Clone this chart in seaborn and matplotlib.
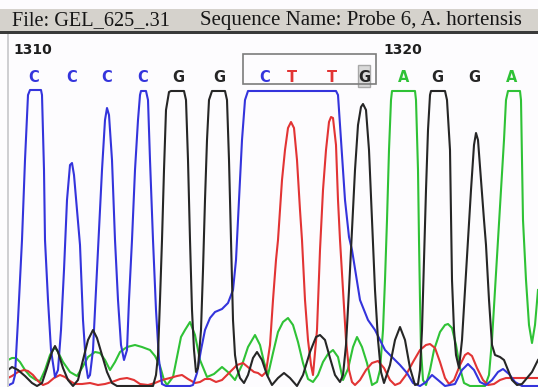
import numpy as np
import pandas as pd
import matplotlib
matplotlib.use("Agg")
import matplotlib.pyplot as plt
from matplotlib.patches import Rectangle
from matplotlib.transforms import blended_transform_factory
import seaborn as sns

# ---- trace data: (scan position, signal) vertices per dye channel ----
blue_scan = [9, 13, 15, 18, 22, 25, 28, 30, 41, 42, 44, 45, 48, 51, 55,
             58, 61, 64, 67, 70, 72, 74, 77, 80, 83, 86, 88,
             90, 93, 96, 99, 102, 105, 107, 109, 112, 115, 118, 121, 124,
             127, 129, 132, 135, 138, 140, 141, 146, 148, 150, 153, 156, 159, 162, 166,
             190, 193, 197, 201, 205, 210, 215, 222, 228, 233, 236, 239, 242, 245, 248,
             336, 338, 341, 345, 349, 352, 356, 360, 368, 375, 385, 390, 400, 407, 413,
             420, 426, 432, 438, 445, 455, 462, 468, 474, 480, 486, 492, 498, 503, 509,
             515, 522, 538]
blue_sig = [2, 4, 12, 67, 147, 227, 292, 297, 297, 292, 217, 147, 87, 37, 10,
            17, 57, 117, 187, 222, 224, 212, 177, 142, 67, 22, 9,
            12, 37, 97, 157, 217, 267, 279, 272, 227, 147, 87, 42, 27,
            37, 87, 147, 217, 267, 292, 296, 296, 287, 227, 147, 77, 27, 3, 1,
            1, 2, 14, 37, 57, 69, 75, 78, 84, 97, 127, 187, 247, 287, 296,
            296, 292, 247, 187, 150, 137, 112, 87, 67, 57, 37, 32, 22, 14, 4,
            1, 5, 12, 7, 1, 3, 17, 23, 17, 5, 2, 7, 15, 18, 13,
            5, 1, 1]

black_scan = [8, 12, 18, 25, 32, 37, 42, 47, 52, 55, 58, 63, 68, 73, 78, 83, 88, 93,
              97, 102, 107, 112, 117, 153,
              156, 158, 160, 162, 164, 166, 169, 171, 184, 186, 188, 190, 192, 194, 196, 198,
              201, 203, 205, 207, 209, 212, 225, 227, 229, 231, 233, 235, 237,
              240, 244, 248, 253, 257, 262, 267, 272, 278, 284, 290, 297, 303, 310,
              316, 320, 325, 330, 335, 340,
              343, 346, 349, 352, 355, 358, 361, 363, 366, 369, 372, 375, 378, 381, 384,
              390, 395, 400, 405, 410, 415, 418,
              420, 422, 424, 426, 428, 430, 431, 445, 447, 450, 452, 454, 456, 459,
              462, 465, 468, 471, 474, 476, 478, 481, 484, 486, 489, 492, 495, 500, 504,
              508, 512, 517, 522, 527, 532, 538]
black_sig = [17, 20, 17, 11, 4, 1, 4, 19, 35, 41, 35, 19, 7, 1, 7, 27, 47, 57,
             49, 32, 15, 4, 1, 1,
             12, 32, 87, 147, 217, 277, 295, 296, 296, 287, 227, 147, 77, 37, 15, 19,
             57, 117, 187, 247, 287, 296, 296, 287, 227, 147, 67, 32, 19,
             9, 4, 12, 29, 35, 27, 12, 2, 9, 14, 9, 1, 12, 35,
             50, 52, 47, 29, 12, 5,
             12, 42, 97, 157, 217, 262, 280, 283, 277, 237, 167, 97, 47, 15, 4,
             22, 47, 60, 47, 19, 2, 3,
             17, 57, 127, 197, 257, 292, 296, 296, 287, 237, 107, 57, 32, 19,
             47, 97, 147, 197, 242, 254, 247, 207, 167, 142, 87, 42, 32, 30, 27,
             17, 7, 2, 3, 9, 15, 27]

green_scan = [8, 12, 16, 20, 25, 30, 36, 40, 45, 50, 54, 57, 63, 70, 77, 82, 88, 95,
              100, 105, 110, 115, 120, 127, 135, 142, 150, 155, 160, 164, 167,
              173, 177, 181, 185, 190, 195, 200, 207, 214, 222, 229, 235, 242, 248, 255,
              260, 264, 268, 273, 278, 283, 288, 293, 298, 303, 308, 313,
              318, 323, 328, 333, 338, 343, 348, 353, 357, 362, 367, 372,
              377, 380, 383, 385, 387, 389, 391, 392, 415, 416, 418, 419, 420, 421, 423,
              426, 430, 434, 440, 445, 448, 452, 456, 460, 464, 470, 485,
              489, 492, 495, 498, 501, 504, 506, 508, 520, 521, 522, 523, 526, 529,
              532, 535, 538]
green_sig = [27, 29, 29, 25, 17, 11, 7, 6, 17, 32, 39, 37, 25, 15, 11, 19, 30, 35,
             34, 27, 17, 25, 35, 40, 42, 40, 37, 31, 21, 7, 2,
             10, 30, 50, 57, 65, 52, 27, 10, 13, 20, 14, 7, 22, 40, 52,
             42, 25, 12, 34, 55, 65, 69, 62, 45, 24, 8, 5,
             12, 25, 33, 37, 30, 7, 18, 40, 50, 40, 24, 2,
             5, 17, 57, 107, 167, 237, 287, 296, 296, 287, 217, 147, 87, 37, 7,
             2, 17, 37, 55, 62, 63, 59, 42, 19, 4, 1, 1,
             12, 47, 97, 147, 197, 247, 287, 296, 296, 287, 227, 167, 107, 62,
             44, 62, 97]

red_scan = [8, 12, 18, 24, 28, 33, 38, 43, 48, 54, 60, 65, 70, 75, 82, 90, 98, 105,
            112, 120, 127, 134, 140, 148, 155, 162, 170, 177, 182, 188, 195, 200,
            205, 210, 216, 222, 230, 237, 243, 249, 254, 258, 262,
            266, 270, 273, 276, 278, 282, 285, 288, 291, 294, 297, 300, 302, 305, 308, 311, 313,
            317, 320, 323, 326, 329, 331, 333, 336, 338, 340, 343, 346, 349, 352,
            355, 360, 366, 372, 378, 384, 390, 395, 400, 406, 413, 420, 426, 430, 435,
            440, 445, 449, 454, 460, 465, 468, 472, 477, 483, 488, 494, 500, 506, 512,
            520, 538]
red_sig = [9, 11, 15, 17, 16, 12, 6, 2, 4, 9, 12, 10, 6, 3, 3, 4, 2, 3,
           5, 8, 9, 7, 3, 2, 4, 7, 9, 11, 12, 8, 4, 5,
           8, 8, 5, 7, 15, 22, 24, 19, 15, 14, 11,
           15, 42, 87, 127, 147, 207, 237, 259, 265, 259, 227, 177, 147, 87, 47, 22, 12,
           57, 137, 197, 237, 265, 270, 269, 242, 187, 147, 97, 47, 17, 5,
           2, 7, 17, 24, 26, 19, 7, 2, 4, 12, 25, 37, 42, 43, 39,
           25, 9, 3, 7, 22, 32, 34, 31, 19, 7, 2, 3, 7, 9, 9,
           9, 9]

# ---- base calls ----
bases = ["C", "C", "C", "C", "G", "G", "C", "T", "T", "G", "A", "G", "G", "A"]
base_scan = [34, 72, 107, 143, 178, 219, 265, 292, 332, 364, 404, 437, 474, 512]
first_base_number = 1310
file_name = "GEL_625_.31"
sequence_name = "Probe 6, A. hortensis"

dye_colors = {"A": "#2fc236", "C": "#3434dc", "G": "#262626", "T": "#e23434"}

frames = []
for base, xs, ys in [("A", green_scan, green_sig), ("T", red_scan, red_sig),
                     ("C", blue_scan, blue_sig), ("G", black_scan, black_sig)]:
    frames.append(pd.DataFrame({"dye": base, "scan": xs, "signal": ys}))
traces = pd.concat(frames, ignore_index=True)

W, H = 538, 387
fig = plt.figure(figsize=(W / 100, H / 100), dpi=100)
fig.patch.set_facecolor("#fdfcfe")


def fx(px):
    return px / W


def fy(py):
    return 1 - py / H


# header bar
fig.patches.append(Rectangle((0, fy(31)), 1, fy(9) - fy(31), transform=fig.transFigure,
                             facecolor="#d5d2cc", edgecolor="none", zorder=0))
fig.patches.append(Rectangle((0, fy(34)), 1, fy(31) - fy(34), transform=fig.transFigure,
                             facecolor="#3a3a3a", edgecolor="none", zorder=1))
fig.patches.append(Rectangle((fx(7), 0), fx(2), fy(34), transform=fig.transFigure,
                             facecolor="#cfcfd2", edgecolor="none", zorder=1))
serif = ["Liberation Serif", "DejaVu Serif"]
fig.text(fx(12), fy(21), f"File: {file_name}", family=serif, fontsize=14.6,
         color="#161616", va="center", ha="left")
fig.text(fx(200), fy(21), f"Sequence Name: {sequence_name}", family=serif,
         fontsize=15.0, color="#161616", va="center", ha="left")

# trace panel
ax = fig.add_axes([fx(8), 0, fx(530), fy(88)])
ax.set_facecolor("none")
sns.lineplot(data=traces, x="scan", y="signal", hue="dye", palette=dye_colors,
             hue_order=["A", "T", "C", "G"], sort=False, estimator=None,
             linewidth=1.5, legend=False, ax=ax)
ax.set_xlim(8, 538)
ax.set_ylim(0, 299)
ax.set_axis_off()

# base calls and position numbers above the traces
tr = blended_transform_factory(ax.transData, fig.transFigure)
narrow = ["Liberation Sans Narrow", "DejaVu Sans"]
for i, (b, x) in enumerate(zip(bases, base_scan)):
    fig.text(x, fy(78), b, transform=tr, family=narrow, fontweight="bold",
             fontsize=10.5, color=dye_colors[b], ha="center", va="center", zorder=5)
    if (first_base_number + i) % 10 == 0:
        fig.text(x - 1, fy(50), str(first_base_number + i), transform=tr,
                 family=["DejaVu Sans"], fontweight="bold", fontsize=10,
                 color="#1e1e1e", ha="center", va="center")

# selection box over C-T-T-G and the cursor on the last G
sel_lo, sel_hi = 6, 9
fig.patches.append(Rectangle((base_scan[sel_lo] - 22, fy(84)), (base_scan[sel_hi] + 12) - (base_scan[sel_lo] - 22),
                             fy(54) - fy(84), transform=tr, facecolor="none",
                             edgecolor="#7c7c7c", linewidth=1.2, zorder=4))
fig.patches.append(Rectangle((base_scan[sel_hi] - 6, fy(87)), 12, fy(65) - fy(87),
                             transform=tr, facecolor="#d9d9d9", edgecolor="#a8a8a8",
                             linewidth=1.0, zorder=3))

fig.savefig("out.png", dpi=100, facecolor=fig.get_facecolor())
